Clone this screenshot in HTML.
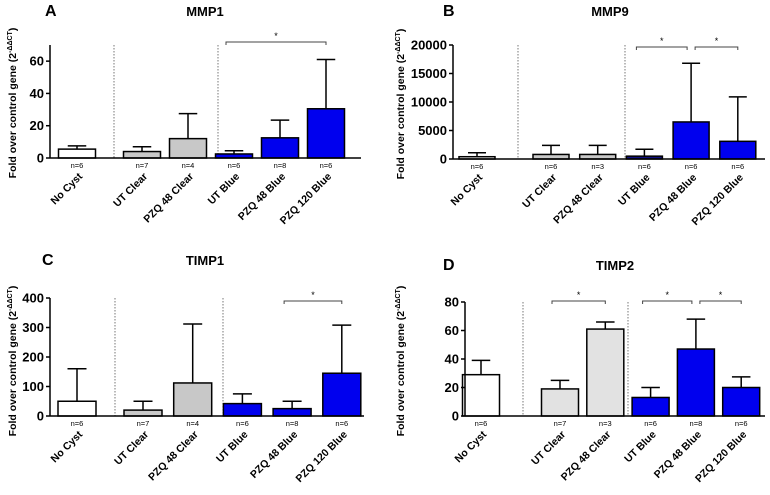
<!DOCTYPE html>
<html><head><meta charset="utf-8"><style>
body{margin:0;background:#fff;width:770px;height:490px;overflow:hidden}
svg{font-family:"Liberation Sans",Arial,sans-serif}
</style></head><body>
<svg id="fig" width="770" height="490"></svg>
<script>
const categories=["No Cyst","UT Clear","PZQ 48 Clear","UT Blue","PZQ 48 Blue","PZQ 120 Blue"];
const mmp1Means=[5.5,4,12,2.5,12.5,30.5];
const mmp1Errs=[7.5,7,27.5,4.5,23.5,61];
const mmp1N=["n=6","n=7","n=4","n=6","n=8","n=6"];
const mmp9Means=[400,800,800,500,6500,3100];
const mmp9Errs=[1100,2400,2400,1700,16800,10900];
const mmp9N=["n=6","n=6","n=3","n=6","n=6","n=6"];
const timp1Means=[50,20,112,42,25,145];
const timp1Errs=[160,50,312,75,50,308];
const timp1N=["n=6","n=7","n=4","n=6","n=8","n=6"];
const timp2Means=[29,19,61,13,47,20];
const timp2Errs=[39,25,66,20,68,27.5];
const timp2N=["n=6","n=7","n=3","n=6","n=8","n=6"];
const mmp1Ticks=[0,20,40,60];
const mmp9Ticks=[0,5000,10000,15000,20000];
const timp1Ticks=[0,100,200,300,400];
const timp2Ticks=[0,20,40,60,80];
const mmp1Sig=[[3,5]];
const mmp9Sig=[[3,4],[4,5]];
const timp1Sig=[[4,5]];
const timp2Sig=[[1,2],[3,4],[4,5]];

const NS="http://www.w3.org/2000/svg";
const svg=document.getElementById('fig');
function mk(t,a,p){const e=document.createElementNS(NS,t);for(const k in a)e.setAttribute(k,a[k]);(p||svg).appendChild(e);return e;}

const panels=[
 {id:'a',letter:'A',title:'MMP1',means:mmp1Means,errs:mmp1Errs,ns:mmp1N,ticks:mmp1Ticks,sig:mmp1Sig,
  ax:50,y0:158,ytop:45,max:70,axEnd:361,c0:77,c1:142,step:46,bw:37,grey:'#c8c8c8',div:[114,218],titleX:205,titleY:12,letterX:45,ytX:12,sigY:42,blue0:'#0000ee'},
 {id:'b',letter:'B',title:'MMP9',means:mmp9Means,errs:mmp9Errs,ns:mmp9N,ticks:mmp9Ticks,sig:mmp9Sig,
  ax:453,y0:159,ytop:45,max:20000,axEnd:765,c0:477,c1:551,step:46.7,bw:36,grey:'#c8c8c8',div:[518,625],titleX:610,titleY:12,letterX:443,ytX:400,sigY:47,blue0:'#101080'},
 {id:'c',letter:'C',title:'TIMP1',means:timp1Means,errs:timp1Errs,ns:timp1N,ticks:timp1Ticks,sig:timp1Sig,
  ax:50,y0:416,ytop:298,max:400,axEnd:364,c0:77,c1:143,step:49.7,bw:38,grey:'#c8c8c8',div:[115,223],titleX:205,titleY:261,letterX:42,ytX:12,sigY:301,blue0:'#0000ee'},
 {id:'d',letter:'D',title:'TIMP2',means:timp2Means,errs:timp2Errs,ns:timp2N,ticks:timp2Ticks,sig:timp2Sig,
  ax:465,y0:416,ytop:302,max:80,axEnd:765,c0:481,c1:560,step:45.3,bw:37,grey:'#e2e2e2',div:[523,628],titleX:615,titleY:266,letterX:443,ytX:400,sigY:301,blue0:'#0000ee'}
];

panels.forEach(p=>{
  const g=mk('g',{});
  
  
  const y=v=>p.y0-(v/p.max)*(p.y0-p.ytop);
  const xc=i=>i===0?p.c0:p.c1+(i-1)*p.step;
  let t=mk('text',{x:p.letterX,y:p.titleY+4,'font-size':16,'font-weight':'bold'},g);t.textContent=p.letter;
  
  t=mk('text',{x:p.titleX,y:p.titleY+4,'font-size':13,'font-weight':'bold','text-anchor':'middle'},g);t.textContent=p.title;
  
  const yt=mk('text',{x:0,y:0,'font-size':10.5,'font-weight':'bold','text-anchor':'middle',transform:`translate(${p.ytX+4},${p.y0-55}) rotate(-90)`},g);
  
  yt.innerHTML='Fold over control gene (2<tspan dy="-4" font-size="7">-ΔΔCT</tspan><tspan dy="4">)</tspan>';
  p.div.forEach(dx=>{const l=mk('line',{x1:dx,x2:dx,y1:p.ytop,y2:p.y0,stroke:'#555','stroke-width':0.8,'stroke-dasharray':'1.5,1.5'},g);
    });
  p.means.forEach((m,i)=>{
    const cx=xc(i);
    const fill=i===0?'#fff':(i<3?p.grey:(i===3?p.blue0:'#0000ee'));
    const eb=mk('line',{x1:cx,x2:cx,y1:y(m),y2:y(p.errs[i]),stroke:'#000','stroke-width':1.5},g);
    
    const cap=mk('line',{x1:cx-p.bw*0.25,x2:cx+p.bw*0.25,y1:y(p.errs[i]),y2:y(p.errs[i]),stroke:'#000','stroke-width':1.5},g);
    
    const r=mk('rect',{x:cx-p.bw/2,y:y(m),width:p.bw,height:p.y0-y(m),fill:fill,stroke:'#000','stroke-width':1.5},g);
    
    
    const n=mk('text',{x:cx,y:p.y0+10,'font-size':7.5,'text-anchor':'middle'},g);n.textContent=p.ns[i];
    
    const cl=mk('text',{x:0,y:0,'font-size':10.5,'font-weight':'bold','text-anchor':'end',transform:`translate(${cx+6},${p.y0+19}) rotate(-45)`},g);
    cl.textContent=categories[i];
    
  });
  let a=mk('line',{x1:p.ax,x2:p.ax,y1:p.ytop,y2:p.y0,stroke:'#000','stroke-width':1.5},g);
  
  a=mk('line',{x1:p.ax,x2:p.axEnd,y1:p.y0,y2:p.y0,stroke:'#000','stroke-width':1.5},g);
  
  p.ticks.forEach(v=>{
    const tk=mk('line',{x1:p.ax-4,x2:p.ax,y1:y(v),y2:y(v),stroke:'#000','stroke-width':1.5},g);
    
    const tl=mk('text',{x:p.ax-6,y:y(v)+4.5,'font-size':13,'font-weight':'bold','text-anchor':'end'},g);tl.textContent=v;
    
  });
  p.sig.forEach(s=>{
    const x1=xc(s[0])-8+(s[0]>0&&p.sig.length>1&&p.sig.some(o=>o[1]===s[0])?12:0), x2=xc(s[1])+(p.sig.some(o=>o[0]===s[1])?-4:0);
    const br=mk('path',{d:`M${x1},${p.sigY+3}V${p.sigY}H${x2}V${p.sigY+3}`,fill:'none',stroke:'#444','stroke-width':1},g);
    
    const st=mk('text',{x:(x1+x2)/2,y:p.sigY-3,'font-size':9,'text-anchor':'middle'},g);st.textContent='*';
    
  });
});
</script>
</body></html>
